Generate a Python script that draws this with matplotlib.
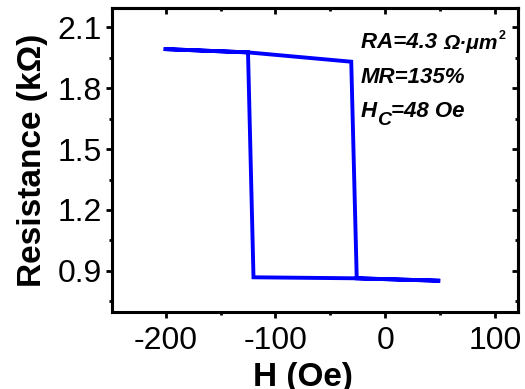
import matplotlib
matplotlib.use("Agg")
import matplotlib.pyplot as plt
from matplotlib.ticker import MultipleLocator

plt.rcParams["font.family"] = ["Liberation Sans", "DejaVu Sans"]
plt.rcParams["axes.unicode_minus"] = False

# hysteresis loop, sweep up then back down
field = [-200, -125, -31, -26, 50, -26, -120, -125, -200]
resistance = [1.993, 1.977, 1.931, 0.863, 0.851, 0.863, 0.868, 1.977, 1.993]

x_ticks = [-200, -100, 0, 100]
y_ticks = [0.9, 1.2, 1.5, 1.8, 2.1]

fig = plt.figure(figsize=(5.25, 3.89), dpi=100)
ax = fig.add_axes([0.213, 0.198, 0.774, 0.781])

ax.plot(field, resistance, color="#0000ff", lw=2.8, solid_joinstyle="miter")

ax.set_xlim(-249, 121)
ax.set_ylim(0.697, 2.195)
ax.set_xticks(x_ticks)
ax.set_yticks(y_ticks)
ax.xaxis.set_minor_locator(MultipleLocator(50))
ax.yaxis.set_minor_locator(MultipleLocator(0.15))
ax.set_yticklabels(["%.1f" % v for v in y_ticks])

for s in ax.spines.values():
    s.set_linewidth(2.2)
ax.tick_params(which="major", direction="out", length=4, width=2, labelsize=23, pad=3)
ax.tick_params(which="minor", direction="out", length=2.5, width=2)
ax.tick_params(axis="x", pad=6)

# mirrored ticks on top/right, pointing inward
axt = ax.secondary_xaxis("top")
axt.set_xticks(x_ticks)
axt.xaxis.set_minor_locator(MultipleLocator(50))
axt.tick_params(which="major", direction="in", length=4, width=2, labeltop=False)
axt.tick_params(which="minor", direction="in", length=2.5, width=2)
axr = ax.secondary_yaxis("right")
axr.set_yticks(y_ticks)
axr.yaxis.set_minor_locator(MultipleLocator(0.15))
axr.tick_params(which="major", direction="in", length=4, width=2, labelright=False)
axr.tick_params(which="minor", direction="in", length=2.5, width=2)
for s in list(axt.spines.values()) + list(axr.spines.values()):
    s.set_linewidth(2.2)

ax.set_xlabel("H (Oe)", fontsize=24, fontweight="bold")
ax.xaxis.set_label_coords(0.47, -0.165)
ax.set_ylabel("Resistance (kΩ)", fontsize=24, fontweight="bold", labelpad=7)

# annotations
bi = dict(fontweight="bold", fontstyle="italic", ha="left")
t1 = ax.text(0.613, 0.868, "RA=4.3 ", transform=ax.transAxes, fontsize=16,
             va="baseline", **bi)
t2 = ax.annotate("Ω·μm", xy=(1, 0), xycoords=t1, fontsize=15, va="bottom", **bi)
ax.annotate("2", xy=(1, 1), xycoords=t2, xytext=(1, 3), textcoords="offset points",
            fontsize=9, fontweight="bold", va="top", ha="left")

ax.text(0.613, 0.753, "MR=135%", transform=ax.transAxes, fontsize=16,
        va="baseline", **bi)

h1 = ax.text(0.613, 0.641, "H", transform=ax.transAxes, fontsize=16,
             va="baseline", **bi)
h2 = ax.annotate("C", xy=(1, 0), xycoords=h1, xytext=(0, -5), textcoords="offset points",
                 fontsize=14, va="bottom", **bi)
ax.annotate("=48 Oe", xy=(1, 0), xycoords=h2, xytext=(0, 5), textcoords="offset points",
            fontsize=16, va="bottom", **bi)

fig.savefig("out.png", dpi=100)
